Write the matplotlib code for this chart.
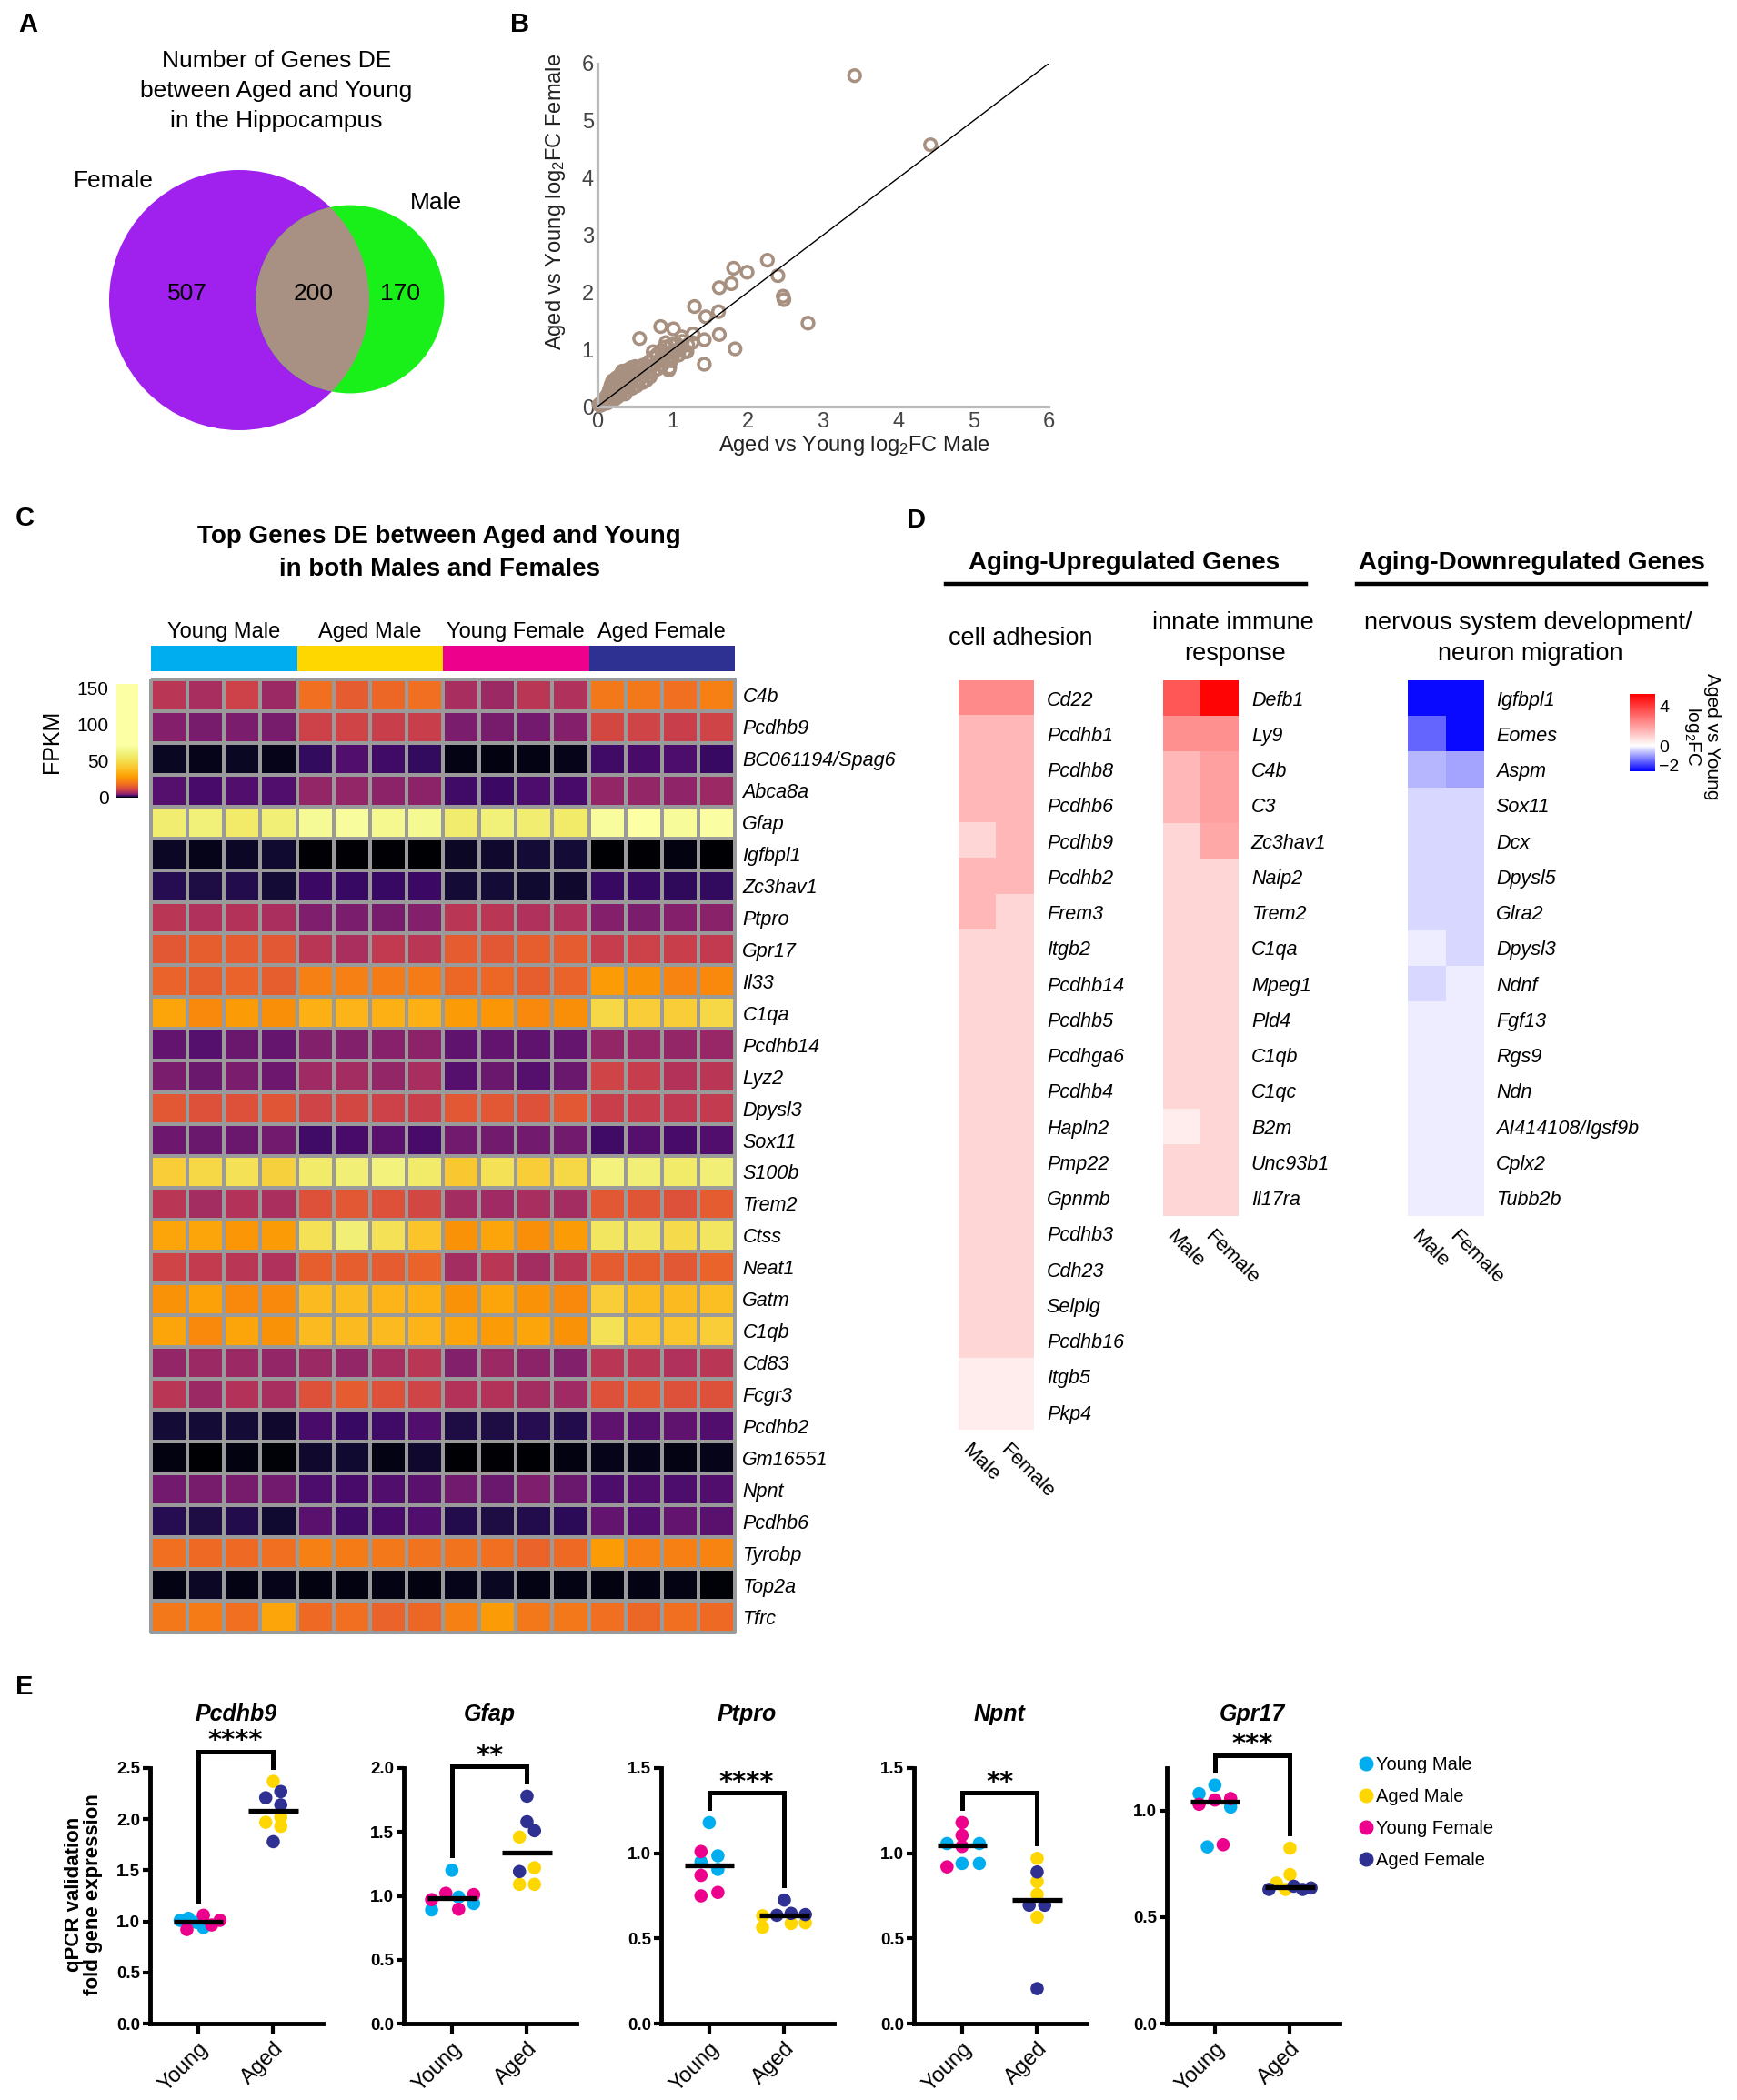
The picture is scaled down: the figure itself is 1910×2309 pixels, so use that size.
import numpy as np
import matplotlib
matplotlib.use('Agg')
import matplotlib.pyplot as plt
from matplotlib.patches import Circle
from matplotlib.colors import ListedColormap, LinearSegmentedColormap, Normalize
from matplotlib.cm import ScalarMappable
from matplotlib.lines import Line2D
from matplotlib.transforms import blended_transform_factory

plt.rcParams['font.family'] = ['Liberation Sans', 'DejaVu Sans']
plt.rcParams['mathtext.fontset'] = 'custom'
plt.rcParams['mathtext.rm'] = 'Liberation Sans'
plt.rcParams['mathtext.it'] = 'Liberation Sans:italic'
plt.rcParams['mathtext.bf'] = 'Liberation Sans:bold'

# ---------------- data ----------------
# A: venn counts
venn_female_only = 507
venn_both = 200
venn_male_only = 170

# B: log2FC male vs female (shared DE genes)
fc_male = [3.42, 4.43, 2.26, 1.81, 1.99, 2.40, 1.78, 1.62, 2.47, 2.48, 2.80, 1.29, 1.44, 1.61,
           1.62, 1.83, 1.42, 1.42, 0.84, 1.01, 0.56, 1.27, 1.26, 1.12, 1.19, 0.91, 0.98, 0.95,
           0.74, 0.70,
           0.02, 0.04, 0.05, 0.06, 0.08, 0.08, 0.10, 0.10, 0.12, 0.12, 0.13, 0.14, 0.15, 0.16,
           0.17, 0.18, 0.18, 0.19, 0.20, 0.20, 0.21, 0.22, 0.23, 0.24, 0.25, 0.25, 0.26, 0.27,
           0.28, 0.29, 0.30, 0.30, 0.31, 0.32, 0.33, 0.34, 0.35, 0.36, 0.37, 0.38, 0.39, 0.40,
           0.41, 0.42, 0.43, 0.44, 0.45, 0.46, 0.47, 0.48, 0.50, 0.50, 0.52, 0.53, 0.55, 0.56,
           0.58, 0.60, 0.60, 0.62, 0.64, 0.65, 0.67, 0.68, 0.70, 0.72, 0.74, 0.75, 0.78, 0.80,
           0.80, 0.83, 0.85, 0.86, 0.88, 0.90, 0.92, 0.94, 0.96, 0.98, 1.00, 1.02, 1.05, 1.08,
           1.10, 1.13, 1.16, 1.20]
fc_female = [5.79, 4.58, 2.56, 2.42, 2.35, 2.29, 2.15, 2.08, 1.93, 1.87, 1.46, 1.75, 1.57, 1.66,
             1.26, 1.01, 1.17, 0.74, 1.40, 1.36, 1.19, 1.27, 1.12, 1.22, 0.96, 1.12, 0.80, 0.64,
             0.96, 0.53,
             0.03, 0.02, 0.07, 0.04, 0.10, 0.05, 0.14, 0.07, 0.10, 0.18, 0.06, 0.22, 0.12, 0.30,
             0.16, 0.10, 0.38, 0.25, 0.45, 0.18, 0.33, 0.12, 0.40, 0.22, 0.50, 0.30, 0.16, 0.44,
             0.36, 0.26, 0.55, 0.20, 0.48, 0.34, 0.62, 0.28, 0.42, 0.56, 0.22, 0.50, 0.36, 0.64,
             0.30, 0.46, 0.58, 0.40, 0.68, 0.32, 0.52, 0.62, 0.44, 0.70, 0.36, 0.56, 0.66, 0.48,
             0.60, 0.42, 0.72, 0.54, 0.66, 0.46, 0.60, 0.78, 0.52, 0.70, 0.86, 0.62, 0.76, 0.92,
             0.66, 0.82, 0.98, 0.72, 0.88, 1.04, 0.80, 0.94, 0.68, 1.08, 0.86, 0.98, 1.10, 0.90,
             1.02, 1.14, 0.96, 1.08]

# C: FPKM heatmap
c_groups = ['Young Male', 'Aged Male', 'Young Female', 'Aged Female']
c_genes = ['C4b', 'Pcdhb9', 'BC061194/Spag6', 'Abca8a', 'Gfap', 'Igfbpl1', 'Zc3hav1', 'Ptpro',
           'Gpr17', 'Il33', 'C1qa', 'Pcdhb14', 'Lyz2', 'Dpysl3', 'Sox11', 'S100b', 'Trem2',
           'Ctss', 'Neat1', 'Gatm', 'C1qb', 'Cd83', 'Fcgr3', 'Pcdhb2', 'Gm16551', 'Npnt',
           'Pcdhb6', 'Tyrobp', 'Top2a', 'Tfrc']
fpkm_young_male = [[8.5, 6.9, 10.6, 6.1], [4.7, 4.1, 4.3, 4.1], [1.29, 1.24, 1.29, 1.24],
                   [2.92, 2.57, 2.8, 2.8], [58, 60, 56, 59], [1.35, 1.24, 1.35, 1.47],
                   [1.82, 1.67, 1.75, 1.54], [8.5, 7.5, 7.8, 7.2], [14.3, 15.6, 14.9, 14.3],
                   [16.3, 15.6, 16.3, 15.6], [31, 23.9, 28.4, 25], [3.32, 2.92, 3.62, 3.47],
                   [4.3, 3.62, 4.3, 3.78], [14.3, 13.1, 13.1, 13.7], [3.78, 3.62, 3.62, 3.95],
                   [43.6, 47.5, 51.8, 45.5], [8.5, 6.6, 7.84, 7.19], [31, 31, 27.2, 28.4],
                   [11.0, 9.31, 8.5, 7.51], [26.1, 29.7, 23.9, 23.9], [31, 23.9, 31, 26.1],
                   [5.56, 6.06, 6.06, 5.56], [8.5, 6.06, 7.84, 6.9], [1.54, 1.54, 1.54, 1.41],
                   [1.14, 0.8, 1.14, 1.09], [3.95, 4.12, 4.12, 3.95], [1.82, 1.67, 1.75, 1.47],
                   [18.5, 17.7, 17.7, 18.5], [1.19, 1.35, 1.19, 1.24], [20.2, 21.0, 18.5, 31]]
fpkm_aged_male = [[18.5, 14.9, 17.0, 18.5], [10.6, 11.0, 10.1, 10.1], [2.07, 2.8, 2.36, 2.07],
                  [5.56, 5.56, 5.11, 5.11], [68, 70, 66, 67], [1.04, 1.04, 1.04, 0.9],
                  [2.26, 2.17, 2.17, 2.26], [4.5, 4.3, 4.1, 4.7], [8.5, 7.2, 9.3, 8.5],
                  [21.9, 21.9, 21.0, 21.0], [33.8, 35.2, 33.8, 33.8], [4.69, 4.69, 4.89, 5.11],
                  [6.33, 6.6, 5.56, 6.9], [11.0, 11.5, 10.6, 10.1], [2.36, 2.57, 3.05, 2.57],
                  [56.4, 58.9, 61.5, 56.4], [13.1, 14.3, 13.1, 11.5], [51.8, 58.9, 51.8, 40],
                  [15.6, 15.6, 14.9, 16.3], [36.8, 36.8, 35.2, 33.8], [36.8, 36.8, 36.8, 35.2],
                  [6.06, 5.56, 6.9, 8.5], [13.1, 14.9, 13.1, 11.0], [2.57, 2.17, 2.36, 2.8],
                  [1.41, 1.47, 1.19, 1.41], [2.68, 2.57, 2.8, 3.05], [3.05, 2.36, 2.57, 2.8],
                  [21.9, 21.0, 20.2, 19.3], [1.14, 1.14, 1.19, 1.14], [17.7, 18.5, 16.3, 17.0]]
fpkm_young_female = [[6.9, 6.1, 8.5, 7.5], [4.3, 4.1, 4.0, 4.7], [1.19, 1.14, 1.19, 1.24],
                     [2.36, 2.26, 2.68, 2.57], [57, 60, 58, 56], [1.35, 1.41, 1.54, 1.54],
                     [1.54, 1.54, 1.47, 1.41], [8.5, 8.5, 7.5, 7.5], [14.9, 14.3, 15.6, 14.9],
                     [17.0, 17.0, 15.6, 16.3], [28.4, 27.2, 23.9, 25], [3.18, 3.32, 3.18, 3.47],
                     [2.92, 3.62, 2.92, 3.62], [14.3, 14.3, 13.1, 14.3], [3.95, 3.95, 3.95, 3.95],
                     [41.8, 51.8, 43.6, 47.5], [6.6, 6.33, 6.9, 6.6], [26.1, 31, 25, 28.4],
                     [6.6, 8.5, 6.6, 8.5], [26.1, 31, 26.1, 23.9], [31, 28.4, 31, 26.1],
                     [4.69, 6.06, 5.11, 4.69], [7.84, 7.84, 6.6, 6.33], [1.67, 1.67, 1.82, 1.75],
                     [0.7, 1.04, 0.6, 1.14], [3.95, 3.62, 4.49, 3.62], [1.75, 1.67, 1.75, 1.9],
                     [19.3, 18.5, 16.3, 17.7], [1.24, 1.29, 1.19, 1.19], [21.9, 28.4, 20.2, 20.2]]
fpkm_aged_female = [[20.2, 20.2, 18.5, 21.9], [11.5, 11.0, 10.1, 11.0], [2.36, 2.57, 2.68, 2.17],
                    [5.56, 5.56, 5.33, 6.06], [70, 72, 69, 71], [0.9, 1.04, 1.14, 0.95],
                    [2.17, 2.17, 1.99, 2.07], [4.7, 4.3, 4.7, 5.1], [9.7, 10.6, 10.1, 9.3],
                    [28.4, 26.1, 22.9, 23.9], [47.5, 43.6, 43.6, 47.5], [5.56, 5.81, 5.56, 5.81],
                    [11.0, 9.72, 7.84, 8.5], [10.1, 9.72, 8.92, 9.31], [2.36, 2.92, 2.57, 2.8],
                    [61.5, 58.9, 56.4, 58.9], [14.3, 13.7, 13.1, 14.9], [54.1, 54.1, 49.6, 54.1],
                    [14.9, 15.6, 14.3, 16.3], [43.6, 36.8, 36.8, 38.4], [51.8, 40, 40, 43.6],
                    [8.5, 8.5, 7.51, 8.5], [13.1, 14.3, 13.1, 13.1], [3.18, 2.92, 3.18, 2.8],
                    [1.24, 1.24, 1.19, 1.24], [2.68, 2.8, 2.68, 2.8], [3.32, 2.8, 3.32, 3.05],
                    [28.4, 21.9, 21.9, 22.9], [1.14, 1.19, 1.19, 1.09], [18.5, 17.0, 18.5, 17.7]]
fpkm_ticks = [0, 50, 100, 150]

# D: log2FC heatmaps
d_adh_genes = ['Cd22', 'Pcdhb1', 'Pcdhb8', 'Pcdhb6', 'Pcdhb9', 'Pcdhb2', 'Frem3', 'Itgb2',
               'Pcdhb14', 'Pcdhb5', 'Pcdhga6', 'Pcdhb4', 'Hapln2', 'Pmp22', 'Gpnmb', 'Pcdhb3',
               'Cdh23', 'Selplg', 'Pcdhb16', 'Itgb5', 'Pkp4']
d_adh_male = [2.4, 1.5, 1.5, 1.5, 0.84, 1.5, 1.5, 0.84, 0.84, 0.84, 0.84, 0.84, 0.84, 0.84,
              0.84, 0.84, 0.84, 0.84, 0.84, 0.37, 0.37]
d_adh_female = [2.4, 1.5, 1.5, 1.5, 1.5, 1.5, 0.84, 0.84, 0.84, 0.84, 0.84, 0.84, 0.84, 0.84,
                0.84, 0.84, 0.84, 0.84, 0.84, 0.37, 0.37]
d_imm_genes = ['Defb1', 'Ly9', 'C4b', 'C3', 'Zc3hav1', 'Naip2', 'Trem2', 'C1qa', 'Mpeg1',
               'Pld4', 'C1qb', 'C1qc', 'B2m', 'Unc93b1', 'Il17ra']
d_imm_male = [3.5, 2.3, 1.5, 1.5, 0.84, 0.84, 0.84, 0.84, 0.84, 0.84, 0.84, 0.84, 0.37, 0.84, 0.84]
d_imm_female = [5.2, 2.3, 1.95, 1.95, 1.8, 0.84, 0.84, 0.84, 0.84, 0.84, 0.84, 0.84, 0.84, 0.84, 0.84]
d_ner_genes = ['Igfbpl1', 'Eomes', 'Aspm', 'Sox11', 'Dcx', 'Dpysl5', 'Glra2', 'Dpysl3', 'Ndnf',
               'Fgf13', 'Rgs9', 'Ndn', 'AI414108/Igsf9b', 'Cplx2', 'Tubb2b']
d_ner_male = [-2.5, -1.56, -0.73, -0.4, -0.4, -0.4, -0.4, -0.17, -0.4, -0.17, -0.17, -0.17,
              -0.17, -0.17, -0.17]
d_ner_female = [-2.5, -2.5, -0.93, -0.4, -0.4, -0.4, -0.4, -0.4, -0.17, -0.17, -0.17, -0.17,
                -0.17, -0.17, -0.17]
d_cols = ['Male', 'Female']
d_ticks = [4, 0, -2]

# E: qPCR validation
e_genes = ['Pcdhb9', 'Gfap', 'Ptpro', 'Npnt', 'Gpr17']
e_stars = ['****', '**', '****', '**', '***']
e_ylim = [2.5, 2.0, 1.5, 1.5, 1.2]
e_young_male = [[1.01, 1.03, 0.99, 0.94], [1.20, 0.99, 0.89, 0.94], [1.18, 0.95, 0.985, 0.905],
                [1.057, 1.057, 0.94, 0.94], [1.12, 1.08, 1.017, 0.83]]
e_young_female = [[0.92, 1.06, 0.965, 1.01], [0.97, 1.02, 0.895, 1.01], [1.01, 0.87, 0.75, 0.77],
                  [1.18, 1.105, 1.04, 0.92], [1.05, 1.03, 1.057, 0.84]]
e_aged_male = [[2.37, 1.97, 2.02, 1.93], [1.46, 1.22, 1.09, 1.09], [0.633, 0.565, 0.588, 0.592],
               [0.97, 0.834, 0.758, 0.624], [0.824, 0.70, 0.66, 0.63]]
e_aged_female = [[2.21, 2.27, 2.14, 1.78], [1.78, 1.58, 1.51, 1.19], [0.725, 0.636, 0.647, 0.64],
                 [0.89, 0.695, 0.695, 0.205], [0.63, 0.645, 0.63, 0.637]]
e_xlabels = ['Young', 'Aged']
e_legend = ['Young Male', 'Aged Male', 'Young Female', 'Aged Female']

# point spread (horizontal offsets of the dots)
jit_young_male = [[-0.24, -0.13, -0.02, 0.07], [0.0, 0.09, -0.27, 0.29], [0.0, -0.11, 0.115, 0.115],
                  [-0.2, 0.23, 0.0, 0.23], [0.0, -0.21, 0.21, -0.1]]
jit_young_female = [[-0.15, 0.07, 0.18, 0.29], [-0.27, -0.08, 0.09, 0.29], [-0.11, -0.11, -0.11, 0.115],
                    [0.0, 0.0, 0.0, -0.2], [0.0, -0.21, 0.21, 0.11]]
jit_aged_male = [[0.0, -0.1, 0.1, 0.1], [-0.1, 0.1, -0.1, 0.1], [-0.29, -0.29, 0.09, 0.28],
                 [0.0, 0.0, 0.0, 0.0], [0.0, 0.0, -0.18, -0.06]]
jit_aged_female = [[-0.1, 0.1, 0.1, 0.0], [0.0, 0.0, 0.1, -0.1], [0.0, -0.1, 0.09, 0.28],
                   [0.0, -0.106, 0.1, 0.0], [-0.28, 0.05, 0.17, 0.28]]

group_colors = ['#00AEEF', '#FFD700', '#EC008C', '#2E3192']

# ---------------- figure ----------------
W, H = 1910, 2309
fig = plt.figure(figsize=(W / 100, H / 100), dpi=100)


def box(l, t, r, b):
    return fig.add_axes([l / W, 1 - b / H, (r - l) / W, (b - t) / H])


def put(x, y, s, **kw):
    kw.setdefault('ha', 'center')
    kw.setdefault('va', 'center')
    return fig.text(x / W, 1 - y / H, s, **kw)


for lab, x, y in [('A', 31, 27), ('B', 572, 27), ('C', 27, 570), ('D', 1007, 572), ('E', 27, 1855)]:
    put(x, y, lab, fontsize=21, fontweight='bold')

# ---- A: venn ----
axA = box(0, 0, 560, 520)
axA.set_xlim(0, 560)
axA.set_ylim(520, 0)
axA.axis('off')
k = 143 / np.sqrt(venn_female_only + venn_both)
r_f = k * np.sqrt(venn_female_only + venn_both)
r_m = k * np.sqrt(venn_male_only + venn_both)
fem = Circle((263, 330), r_f, fc='#A020EE', ec='none')
mal = Circle((385, 329), r_m, fc='#19F019', ec='none')
axA.add_patch(fem)
axA.add_patch(mal)
ov = Circle((385, 329), r_m, fc='#A89182', ec='none')
axA.add_patch(ov)
ov.set_clip_path(fem)
axA.text(206, 323, str(venn_female_only), fontsize=19, ha='center', va='center')
axA.text(345, 323, str(venn_both), fontsize=19, ha='center', va='center')
axA.text(440, 323, str(venn_male_only), fontsize=19, ha='center', va='center')
axA.text(125, 199, 'Female', fontsize=19, ha='center', va='center')
axA.text(479, 223, 'Male', fontsize=19, ha='center', va='center')
for s, y in [('Number of Genes DE', 67), ('between Aged and Young', 100), ('in the Hippocampus', 133)]:
    put(304, y, s, fontsize=19)

# ---- B: scatter ----
axB = box(657, 70, 1153, 447)
axB.set_xlim(0, 6)
axB.set_ylim(0, 6)
axB.scatter(fc_male, fc_female, s=85, facecolors='none', edgecolors='#A89080', linewidths=2.5,
            clip_on=False, zorder=2)
lim = axB.get_xlim()
axB.plot(lim, lim, color='black', lw=1.0, zorder=3)
for sp in ['top', 'right']:
    axB.spines[sp].set_visible(False)
for sp in ['left', 'bottom']:
    axB.spines[sp].set_color('#BBBBBB')
    axB.spines[sp].set_linewidth(2.3)
axB.set_xticks(range(7))
axB.set_yticks(range(7))
axB.tick_params(length=0, labelsize=17, labelcolor='#444444')
axB.tick_params(axis='x', pad=4)
axB.tick_params(axis='y', pad=3)
put(939, 490, r'Aged vs Young log$_2$FC Male', fontsize=17, color='#222222')
put(611, 222, r'Aged vs Young log$_2$FC Female', fontsize=17, rotation=90, color='#222222')

# ---- C: FPKM heatmap ----
fpkm = np.hstack([np.array(fpkm_young_male), np.array(fpkm_aged_male),
                  np.array(fpkm_young_female), np.array(fpkm_aged_female)])
grid = np.linspace(0, 155, 4096)
frac = np.clip(np.log(np.maximum(grid, 1.0)) / np.log(73), 0, 1)
cmap_fpkm = ListedColormap(plt.cm.inferno(frac))
norm_fpkm = Normalize(0, 155)

put(483, 590, 'Top Genes DE between Aged and Young', fontsize=20, fontweight='bold')
put(483, 626, 'in both Males and Females', fontsize=20, fontweight='bold')

axC = box(166, 747, 808, 1795)
mesh = axC.pcolormesh(fpkm, cmap=cmap_fpkm, norm=norm_fpkm, edgecolors='#9A9A9A', linewidth=1.6)
mesh.set_clip_on(False)
axC.set_xlim(0, fpkm.shape[1])
axC.set_ylim(fpkm.shape[0], 0)
for sp in axC.spines.values():
    sp.set_visible(False)
axC.set_xticks([])
axC.yaxis.tick_right()
axC.set_yticks(np.arange(len(c_genes)) + 0.5)
axC.set_yticklabels(c_genes, fontstyle='italic', fontsize=15.5)
axC.tick_params(axis='y', length=0, pad=6)

axG = box(166, 710, 808, 738)
n_rep = len(fpkm_young_male[0])
grp_idx = np.repeat(np.arange(len(c_groups)), n_rep)[None, :]
axG.pcolormesh(grp_idx, cmap=ListedColormap(group_colors), vmin=-0.5, vmax=3.5)
axG.axis('off')
for gi, g in enumerate(c_groups):
    gx = 166 + (808 - 166) * (gi + 0.5) / len(c_groups)
    put(gx, 695, g, fontsize=17)

caxC = box(128, 752, 152, 877)
cbC = fig.colorbar(ScalarMappable(norm=norm_fpkm, cmap=cmap_fpkm), cax=caxC)
cbC.set_ticks(fpkm_ticks)
cbC.outline.set_visible(False)
caxC.yaxis.set_ticks_position('left')
caxC.tick_params(length=0, labelsize=15, pad=6)
put(57, 815, 'FPKM', fontsize=18, rotation=90)

# ---- D: log2FC heatmaps ----
d_vmin, d_vmax = -2.6, 5.3
z = -d_vmin / (d_vmax - d_vmin)
cmap_d = LinearSegmentedColormap.from_list('bwr2', [(0, '#0000FF'), (z, '#FFFFFF'), (1, '#FF0000')])
norm_d = Normalize(d_vmin, d_vmax)

put(1236, 619, 'Aging-Upregulated Genes', fontsize=20, fontweight='bold')
put(1684, 619, 'Aging-Downregulated Genes', fontsize=20, fontweight='bold')
fig.add_artist(Line2D([1040 / W, 1436 / W], [1 - 642 / H] * 2, color='black', lw=3.2))
fig.add_artist(Line2D([1492 / W, 1876 / W], [1 - 642 / H] * 2, color='black', lw=3.2))
put(1122, 702, 'cell adhesion', fontsize=19.5)
put(1356, 685, 'innate immune', fontsize=19.5)
put(1358, 719, 'response', fontsize=19.5)
put(1680, 685, 'nervous system development/', fontsize=19.5)
put(1683, 719, 'neuron migration', fontsize=19.5)

row_h = 39.25
for genes, male, female, left in [(d_adh_genes, d_adh_male, d_adh_female, 1054),
                                  (d_imm_genes, d_imm_male, d_imm_female, 1279),
                                  (d_ner_genes, d_ner_male, d_ner_female, 1548)]:
    n = len(genes)
    ax = box(left, 748, left + 83, 748 + n * row_h)
    ax.imshow(np.column_stack([male, female]), cmap=cmap_d, norm=norm_d, aspect='auto',
              interpolation='nearest')
    for sp in ax.spines.values():
        sp.set_visible(False)
    ax.set_xticks([])
    ax.yaxis.tick_right()
    ax.set_yticks(range(n))
    ax.set_yticklabels(genes, fontstyle='italic', fontsize=15.5)
    ax.tick_params(axis='y', length=0, pad=10)
    for j, c in enumerate(d_cols):
        ax.text(j - 0.15, n - 0.5 + 0.3, c, rotation=-45, ha='left', va='top',
                rotation_mode='anchor', fontsize=16, clip_on=False)

caxD = box(1792, 763, 1820, 848)
cbD = fig.colorbar(ScalarMappable(norm=norm_d, cmap=cmap_d), cax=caxD)
cbD.set_ticks(d_ticks)
cbD.outline.set_visible(False)
caxD.tick_params(length=0, labelsize=14, pad=3)
put(1871, 810, 'Aged vs Young\nlog$_2$FC', fontsize=15, rotation=-90, linespacing=1.0)

# ---- E: qPCR dot plots ----
e_left = [165, 444, 727, 1005, 1283]
groups = [(e_young_male, jit_young_male, 0), (e_young_female, jit_young_female, 0),
          (e_aged_male, jit_aged_male, 1), (e_aged_female, jit_aged_female, 1)]
gcol = [group_colors[0], group_colors[2], group_colors[1], group_colors[3]]
for i, gene in enumerate(e_genes):
    ax = box(e_left[i], 1944, e_left[i] + 190, 2225)
    ax.set_xlim(-0.64, 1.66)
    ymax = e_ylim[i]
    ax.set_ylim(0, ymax)
    for (vals, jit, pos), col in zip(groups, gcol):
        ax.scatter(np.array(jit[i]) + pos, vals[i], s=110, color=col, edgecolors='none',
                   zorder=3, clip_on=False)
    young = e_young_male[i] + e_young_female[i]
    aged = e_aged_male[i] + e_aged_female[i]
    for pos, v in [(0, young), (1, aged)]:
        med = np.median(v)
        ax.plot([pos - 0.33, pos + 0.33], [med, med], color='black', lw=3.8,
                solid_capstyle='butt', zorder=4)
    leg_l = max(young) + 0.057 * ymax
    leg_r = max(aged) + 0.057 * ymax
    top = max(leg_l, leg_r) + 0.06 * ymax
    ax.plot([0, 0, 1, 1], [leg_l, top, top, leg_r], color='black', lw=3.6, clip_on=False,
            solid_joinstyle='miter', zorder=4)
    ax.text(0.5, top + 0.012 * ymax, e_stars[i], ha='center', va='baseline', fontsize=21,
            fontweight='bold', family='DejaVu Sans', clip_on=False)
    tr = blended_transform_factory(ax.transData, fig.transFigure)
    ax.text(0.5, 1 - 1885 / H, gene, transform=tr, ha='center', va='center', fontsize=18,
            fontweight='bold', fontstyle='italic')
    for sp in ['top', 'right']:
        ax.spines[sp].set_visible(False)
    for sp in ['left', 'bottom']:
        ax.spines[sp].set_linewidth(3.5)
    yt = np.arange(0, ymax + 0.01, 0.5)
    ax.set_yticks(yt)
    ax.set_yticklabels(['%.1f' % t for t in yt], fontweight='bold', fontsize=13.5)
    ax.set_xticks([0, 1])
    ax.set_xticklabels(e_xlabels, rotation=45, ha='right', rotation_mode='anchor', fontsize=17)
    ax.tick_params(axis='y', width=3, length=6, pad=2)
    ax.tick_params(axis='x', width=3, length=8, pad=4)

put(92, 2083, 'qPCR validation\nfold gene expression', fontsize=16, fontweight='bold',
    rotation=90, linespacing=1.05)

handles = [Line2D([], [], marker='o', ls='', color=c, markersize=10.5) for c in group_colors]
fig.legend(handles, e_legend, loc='upper left', bbox_to_anchor=(1493 / W, 1 - 1931 / H),
           frameon=False, fontsize=14.5, handletextpad=0.1, handlelength=0.9, labelspacing=0.8,
           borderpad=0, borderaxespad=0)

fig.savefig('out.png', dpi=100, facecolor='white')
